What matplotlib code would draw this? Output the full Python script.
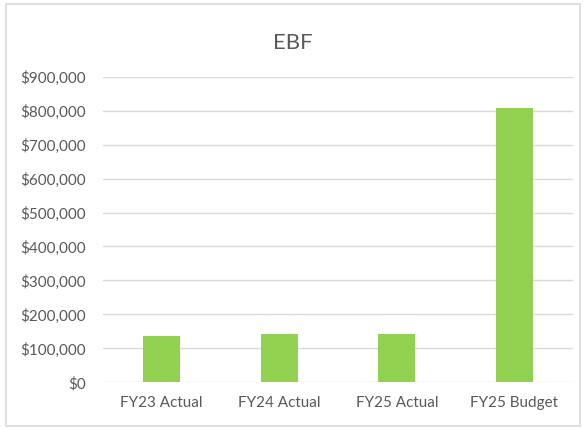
import matplotlib.pyplot as plt
from matplotlib.patches import Rectangle
from matplotlib.ticker import FuncFormatter

categories = ['FY23 Actual', 'FY24 Actual', 'FY25 Actual', 'FY25 Budget']
values = [137000, 143000, 143000, 807000]
yticks = [0, 100000, 200000, 300000, 400000, 500000, 600000, 700000, 800000, 900000]

plt.rcParams['font.family'] = ['Lato', 'DejaVu Sans']
text_color = '#595959'

fig = plt.figure(figsize=(5.86, 4.28), dpi=100)
# outer chart border
fig.patches.append(Rectangle((6 / 586, 2 / 428), 574 / 586, 422 / 428,
                             transform=fig.transFigure, fill=False,
                             edgecolor='#d9d9d9', linewidth=1.2))

ax = fig.add_axes([103 / 586, 45.7 / 428, 470 / 586, 305.6 / 428])
x = range(len(categories))
ax.bar(x, values, width=0.318, color='#92d050', zorder=3)

ax.set_xlim(-0.5, len(categories) - 0.5)
ax.set_ylim(0, 900000)
ax.set_yticks(yticks)
ax.yaxis.set_major_formatter(FuncFormatter(lambda v, p: '${:,.0f}'.format(v)))
ax.set_xticks(list(x))
ax.set_xticklabels(categories)
ax.tick_params(axis='both', length=0, labelsize=11, colors=text_color)
ax.tick_params(axis='y', pad=12)
ax.tick_params(axis='x', pad=10)
ax.grid(axis='y', color='#d9d9d9', linewidth=1.0, zorder=0)
for s in ax.spines.values():
    s.set_visible(False)

fig.text(0.5, 1 - 43 / 428, 'EBF', ha='center', va='center',
         fontsize=16, color=text_color)

fig.savefig('out.png', dpi=100)
